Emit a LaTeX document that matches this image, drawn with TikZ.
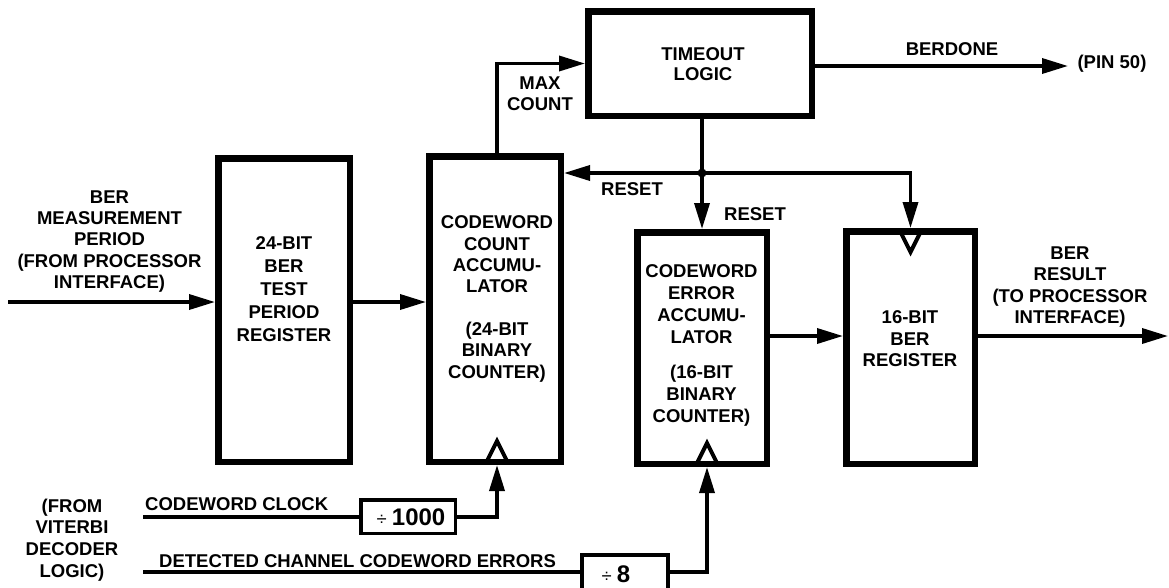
\documentclass[tikz,border=0pt]{standalone}
\usepackage{fontspec}
\setmainfont{Liberation Sans}
\usetikzlibrary{arrows.meta,calc}
\begin{document}
\begin{tikzpicture}[x=1pt,y=-1pt,
  box/.style={draw, line width=6.5pt, inner sep=0pt},
  dbox/.style={draw, line width=3.5pt, inner sep=0pt},
  lbl/.style={font=\bfseries\fontsize{18.5}{#1}\selectfont, align=center, inner sep=0pt},
  lbl/.default=21.5,
  conn/.style={line width=3.5pt, line join=miter},
  arr/.style={conn, -{Triangle[length=26pt,width=15pt]}},
  clk/.style={line width=4pt, line join=miter}]
\useasboundingbox (0,0) rectangle (1169,587);
\clip (0,0) rectangle (1169,587);

% boxes
\node[box, minimum width=131.5pt, minimum height=303.5pt] (b1) at (284,310) {};
\node[box, minimum width=131.5pt, minimum height=305.5pt] (cc) at (495,309) {};
\node[box, minimum width=223.5pt, minimum height=104.5pt] (to) at (700,63.5) {};
\node[box, minimum width=129.5pt, minimum height=231.5pt] (err) at (702,348) {};
\node[box, minimum width=128.5pt, minimum height=232.5pt] (reg) at (910.5,347.5) {};
\node[dbox, minimum width=94.5pt, minimum height=33.5pt] (d1000) at (408,516.5) {};
\node[dbox, minimum width=86pt, minimum height=34.5pt] (d8) at (625,572) {};

% clock triangles
\draw[clk] (486.5,462) -- (497,441) -- (507.5,462);
\draw[clk] (696.5,464) -- (707,443) -- (717.5,464);
\draw[clk] (900,231) -- (910.5,252) -- (921,231);

% connectors
\coordinate (in1) at (8,302);
\draw[arr] (in1) -- (in1 -| b1.west);
\draw[arr] (b1.east |- in1) -- (cc.west |- in1);
\draw[arr] ([xshift=2pt]cc.north) |- (to.west);
\coordinate (j) at (702,173);
\draw[conn] (to.south -| j) -- (j);
\draw[arr] (j) -- (cc.east |- j);
\draw[arr] (j) -- (err.north -| j);
\draw[arr] (j) -| (reg.north);
\fill (j) circle (4.5pt);
\coordinate (mid) at (0,336);
\draw[arr] (err.east |- mid) -- (reg.west |- mid);
\coordinate (out) at (1168,336);
\draw[arr] (reg.east |- out) -- (out);
\coordinate (bd) at (1068,66);
\draw[arr] (to.east |- bd) -- (bd);
\coordinate (cw) at (143,517);
\draw[conn] (cw) -- (cw -| d1000.west);
\draw[arr] (d1000.east |- cw) -| ([xshift=2pt]cc.south);
\coordinate (de) at (143,572);
\draw[conn] (de) -- (de -| d8.west);
\draw[arr] (d8.east |- de) -| ([xshift=5pt]err.south);

% texts
\node[lbl=21.3] (tin) at (109.5,241.5) {BER\\MEASUREMENT\\PERIOD\\(FROM PROCESSOR\\INTERFACE)};
\node[lbl=23] (tb1) at (284,289) {24-BIT\\BER\\TEST\\PERIOD\\REGISTER};
\node[lbl=21.3] (tcc) at (497,299) {CODEWORD\\COUNT\\ACCUMU-\\LATOR\\[21.3pt](24-BIT\\BINARY\\COUNTER)};
\node[lbl=22] (terr) at (701.5,345) {CODEWORD\\ERROR\\ACCUMU-\\LATOR\\[13pt](16-BIT\\BINARY\\COUNTER)};
\node[lbl] (treg) at (910,339) {16-BIT\\BER\\REGISTER};
\node[lbl=21.3] (tres) at (1070,287) {BER\\RESULT\\(TO PROCESSOR\\INTERFACE)};
\node[lbl=20] (tto) at (703,64) {TIMEOUT\\LOGIC};
\node[lbl=21] (tmax) at (540,94) {MAX\\COUNT};
\node[lbl, anchor=base] (tr1) at (632,195) {RESET};
\node[lbl, anchor=base] (tr2) at (755,220) {RESET};
\node[lbl, anchor=base] (tbd) at (952,55) {BERDONE};
\node[lbl, anchor=base] (tpin) at (1112,68) {(PIN 50)};
\node[lbl, anchor=base west] (tcw) at (145,510.5) {CODEWORD CLOCK};
\node[lbl, anchor=base west] (tde) at (159,567) {DETECTED CHANNEL CODEWORD ERRORS};
\node[lbl=21.7] (tvit) at (72,540) {(FROM\\VITERBI\\DECODER\\LOGIC)};
\node[inner sep=0pt, anchor=base] (t1000) at (411,525) {\fontsize{18.5}{20}\selectfont ÷\ \fontsize{24}{26}\selectfont\bfseries 1000};
\node[inner sep=0pt, anchor=base] (t8) at (616,582) {\fontsize{18.5}{20}\selectfont ÷\ \fontsize{24}{26}\selectfont\bfseries 8};
\end{tikzpicture}
\end{document}
